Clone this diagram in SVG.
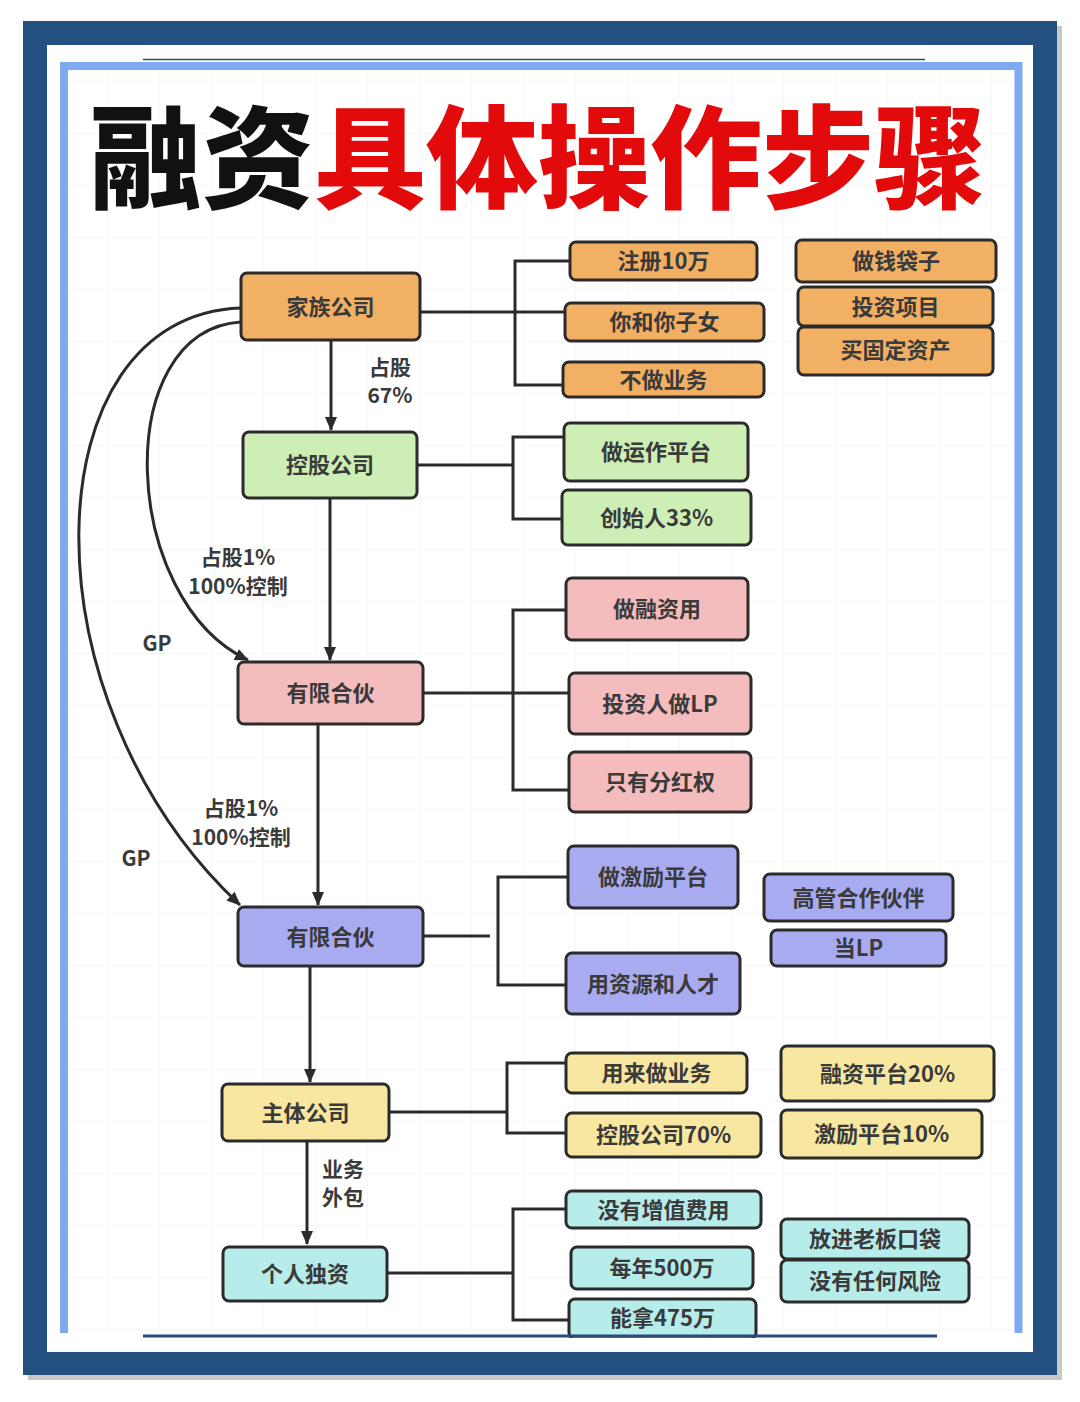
<svg xmlns="http://www.w3.org/2000/svg" width="1080" height="1402" viewBox="0 0 1080 1402">
<style>
.n rect{stroke:#2b2b2b;stroke-width:3}
.n text,.lb{font-family:"Noto Sans CJK SC","Noto Sans",sans-serif;font-weight:700;font-size:22px;fill:#3a3a3a;text-anchor:middle;dominant-baseline:central}
.lb{font-size:21px}
.or rect{fill:#f2b064}
.gr rect{fill:#cdeeb4}
.pk rect{fill:#f4bcbc}
.pu rect{fill:#a8abf0}
.ye rect{fill:#f7e7a0}
.cy rect{fill:#b6ecea}
.c path{fill:none;stroke:#2b2b2b;stroke-width:3}
.title{font-family:"Noto Sans CJK SC",sans-serif;font-weight:900;font-size:112px}
</style>
<defs>
<marker id="ah" viewBox="0 0 14 12" refX="13" refY="6" markerWidth="14" markerHeight="12" markerUnits="userSpaceOnUse" orient="auto">
<path d="M0,0 L14,6 L0,12 Z" fill="#2b2b2b"/>
</marker>
<pattern id="grid" x="3" y="29" width="52" height="52" patternUnits="userSpaceOnUse">
<path d="M52,0 L0,0 0,52" fill="none" stroke="#efefef" stroke-width="1"/>
</pattern>
</defs>
<rect width="1080" height="1402" fill="#ffffff"/>
<!-- frame -->
<rect x="28" y="26" width="1034" height="1354" fill="#c8c8c8"/>
<rect x="23" y="21" width="1034" height="1354" fill="#23507f"/>
<rect x="47" y="45" width="986" height="1307" fill="#ffffff"/>
<rect x="68" y="72" width="947" height="1262" fill="url(#grid)"/>
<path d="M143,59.5 H925" stroke="#2a4a7a" stroke-width="1.5"/>
<path d="M64,1333 V66 H1018.5 V1333" fill="none" stroke="#7eaaf0" stroke-width="8"/>
<!-- title -->
<text class="title" x="90" y="200"><tspan fill="#111111">融资</tspan><tspan fill="#e20a0a">具体操作步骤</tspan></text>
<!-- connectors -->
<g class="c" id="connectors">
<path d="M331,340 V430" marker-end="url(#ah)"/>
<path d="M330,498 V660" marker-end="url(#ah)"/>
<path d="M318,724 V905" marker-end="url(#ah)"/>
<path d="M310,966 V1082" marker-end="url(#ah)"/>
<path d="M307,1141 V1244" marker-end="url(#ah)"/>
<path d="M241,322 C110,330 120,600 248,660" marker-end="url(#ah)"/>
<path d="M241,308 C30,315 20,700 240,905" marker-end="url(#ah)"/>
<path d="M420,312 H565 M570,261 H515 V385 H563"/>
<path d="M417,465 H513 M564,437 H513 V519 H562"/>
<path d="M423,693 H569 M566,610 H513 V790 H569"/>
<path d="M423,936 H490 M568,877 H498 V985 H566"/>
<path d="M389,1112 H507 M566,1063 H507 V1133 H566"/>
<path d="M387,1273 H513 M566,1209 H513 V1320 H569"/>
</g>
<text class="lb" x="390" y="366">占股</text>
<text class="lb" x="390" y="394">67%</text>
<text class="lb" x="238" y="556">占股1%</text>
<text class="lb" x="238" y="585">100%控制</text>
<text class="lb" x="157" y="642">GP</text>
<text class="lb" x="241" y="807">占股1%</text>
<text class="lb" x="241" y="836">100%控制</text>
<text class="lb" x="136" y="857">GP</text>
<text class="lb" x="343" y="1168">业务</text>
<text class="lb" x="343" y="1196">外包</text>
<!-- nodes -->
<g id="n1" class="n or"><rect x="241" y="273" width="179" height="67" rx="6"/><text x="330.5" y="304.5">家族公司</text></g>
<g id="n2" class="n or"><rect x="570" y="242" width="187" height="38" rx="6"/><text x="663.5" y="259">注册10万</text></g>
<g id="n3" class="n or"><rect x="565" y="303" width="199" height="38" rx="6"/><text x="664.5" y="320">你和你子女</text></g>
<g id="n4" class="n or"><rect x="563" y="362" width="201" height="35" rx="6"/><text x="663.5" y="377.5">不做业务</text></g>
<g id="n5" class="n or"><rect x="796" y="240" width="200" height="42" rx="6"/><text x="896" y="259">做钱袋子</text></g>
<g id="n6" class="n or"><rect x="798" y="287" width="195" height="39" rx="6"/><text x="895.5" y="304.5">投资项目</text></g>
<g id="n7" class="n or"><rect x="798" y="327" width="195" height="48" rx="6"/><text x="895.5" y="348">买固定资产</text></g>
<g id="n8" class="n gr"><rect x="243" y="432" width="174" height="66" rx="6"/><text x="330" y="463">控股公司</text></g>
<g id="n9" class="n gr"><rect x="564" y="423" width="184" height="58" rx="6"/><text x="656" y="450">做运作平台</text></g>
<g id="n10" class="n gr"><rect x="562" y="490" width="189" height="55" rx="6"/><text x="656.5" y="515.5">创始人33%</text></g>
<g id="n11" class="n pk"><rect x="238" y="662" width="185" height="62" rx="6"/><text x="330.5" y="691">有限合伙</text></g>
<g id="n12" class="n pk"><rect x="566" y="578" width="182" height="62" rx="6"/><text x="657" y="607">做融资用</text></g>
<g id="n13" class="n pk"><rect x="569" y="673" width="182" height="61" rx="6"/><text x="660" y="701.5">投资人做LP</text></g>
<g id="n14" class="n pk"><rect x="569" y="752" width="182" height="60" rx="6"/><text x="660" y="780">只有分红权</text></g>
<g id="n15" class="n pu"><rect x="238" y="907" width="185" height="59" rx="6"/><text x="330.5" y="934.5">有限合伙</text></g>
<g id="n16" class="n pu"><rect x="568" y="846" width="170" height="62" rx="6"/><text x="653" y="875">做激励平台</text></g>
<g id="n17" class="n pu"><rect x="566" y="953" width="174" height="61" rx="6"/><text x="653" y="981.5">用资源和人才</text></g>
<g id="n18" class="n pu"><rect x="764" y="874" width="189" height="47" rx="6"/><text x="858.5" y="895.5">高管合作伙伴</text></g>
<g id="n19" class="n pu"><rect x="771" y="930" width="175" height="36" rx="6"/><text x="858.5" y="946">当LP</text></g>
<g id="n20" class="n ye"><rect x="222" y="1084" width="167" height="57" rx="6"/><text x="305.5" y="1110.5">主体公司</text></g>
<g id="n21" class="n ye"><rect x="566" y="1053" width="181" height="40" rx="6"/><text x="656.5" y="1071">用来做业务</text></g>
<g id="n22" class="n ye"><rect x="566" y="1113" width="195" height="44" rx="6"/><text x="663.5" y="1133">控股公司70%</text></g>
<g id="n23" class="n ye"><rect x="781" y="1046" width="213" height="55" rx="6"/><text x="887.5" y="1071.5">融资平台20%</text></g>
<g id="n24" class="n ye"><rect x="781" y="1110" width="201" height="48" rx="6"/><text x="881.5" y="1132">激励平台10%</text></g>
<g id="n25" class="n cy"><rect x="223" y="1247" width="164" height="54" rx="6"/><text x="305" y="1272">个人独资</text></g>
<g id="n26" class="n cy"><rect x="566" y="1191" width="195" height="37" rx="6"/><text x="663.5" y="1207.5">没有增值费用</text></g>
<g id="n27" class="n cy"><rect x="571" y="1247" width="182" height="42" rx="6"/><text x="662" y="1266">每年500万</text></g>
<g id="n28" class="n cy"><rect x="569" y="1299" width="187" height="40" rx="6"/><text x="662.5" y="1316">能拿475万</text></g>
<g id="n29" class="n cy"><rect x="781" y="1219" width="188" height="40" rx="6"/><text x="875" y="1237">放进老板口袋</text></g>
<g id="n30" class="n cy"><rect x="781" y="1260" width="188" height="42" rx="6"/><text x="875" y="1279">没有任何风险</text></g>
<path d="M143,1336 H937" stroke="#2a4a7a" stroke-width="3"/>
<rect x="47" y="1338" width="986" height="14" fill="#ffffff"/>
</svg>
